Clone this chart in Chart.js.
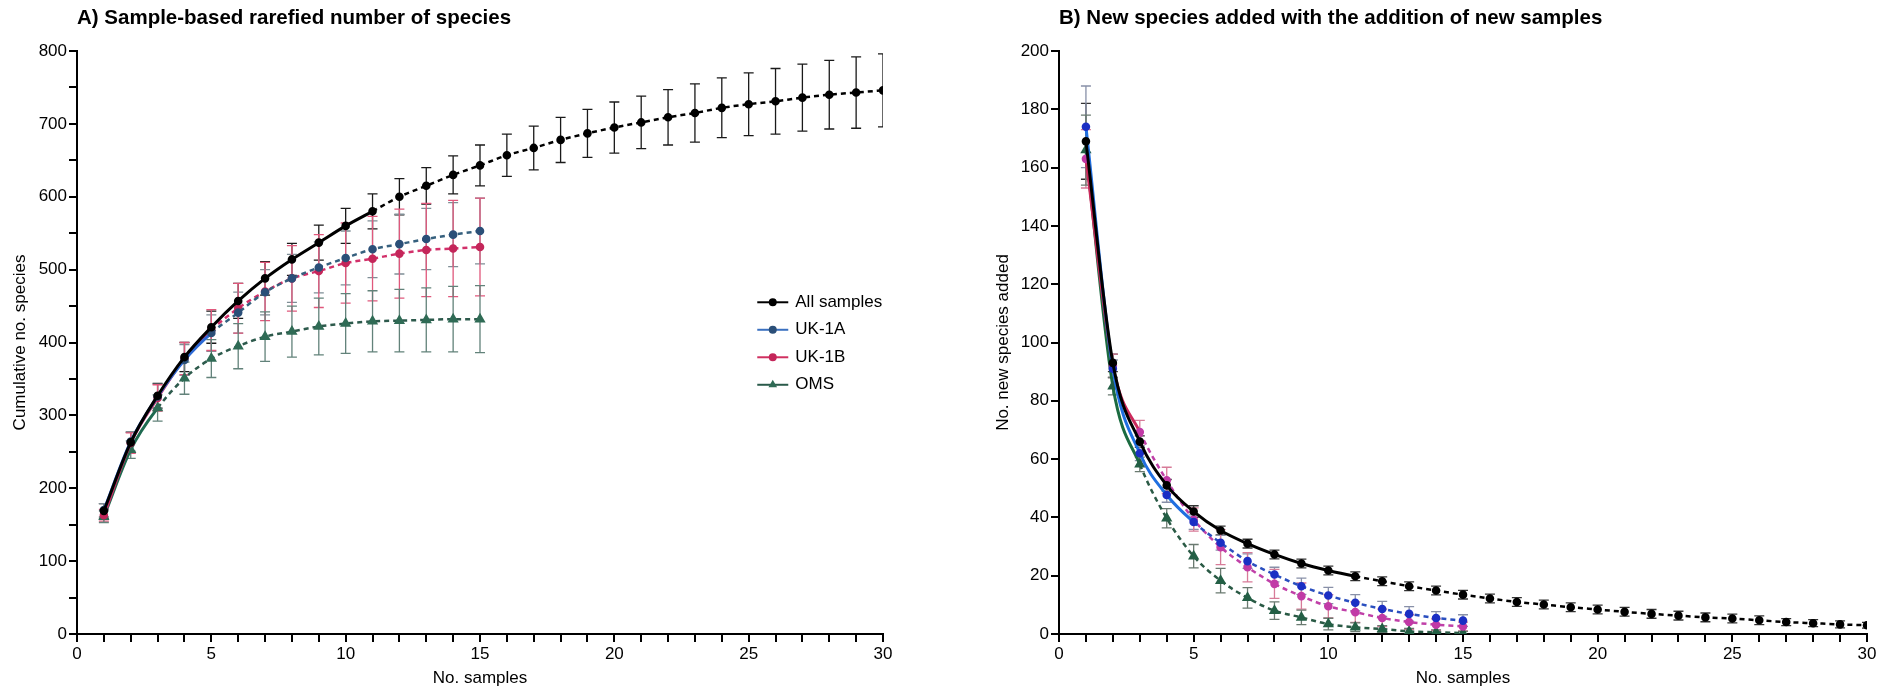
<!DOCTYPE html>
<html>
<head>
<meta charset="utf-8">
<script src="https://cdn.jsdelivr.net/npm/chart.js@4.4.1/dist/chart.umd.min.js"></script>
<style>
  html, body { margin: 0; padding: 0; background: #fff; }
  #wrap { display: flex; width: 1890px; height: 689px; }
  .box { position: relative; width: 945px; height: 689px; }
</style>
</head>
<body>
<div id="wrap">
  <div class="box"><canvas id="chartA" width="945" height="689"></canvas></div>
  <div class="box"><canvas id="chartB" width="945" height="689"></canvas></div>
</div>
<script>
// x values (no. samples)
var samples = [1,2,3,4,5,6,7,8,9,10,11,12,13,14,15,16,17,18,19,20,21,22,23,24,25,26,27,28,29,30];
var seriesNames = ['All samples', 'UK-1A', 'UK-1B', 'OMS'];

// A) cumulative no. species (mean, +/- error)
var allA     = [169,263,327,380,421,457,488,514,537,560,580,600,615,630,643,657,667,678,687,695,702,709,715,722,727,731,736,740,743,746];
var allAErr  = [10,14,17,20,22,24,23,22,24,24,24,25,25,26,28,29,30,31,33,35,36,38,40,41,43,45,46,47,49,50];
var uk1aA    = [170,264,326,376,413,441,469,488,503,516,528,535,542,548,553];
var uk1aAErr = [9,13,17,21,25,28,31,33,35,37,39,41,42,44,45];
var uk1bA    = [163,262,324,378,417,447,470,488,498,509,515,522,527,529,531];
var uk1bAErr = [8,14,18,22,28,34,40,45,50,55,58,61,64,66,67];
var omsA     = [161,253,310,351,378,395,408,415,422,426,429,430,431,432,432];
var omsAErr  = [8,12,18,22,26,31,34,35,39,41,42,43,44,45,46];

// B) new species added
var allB     = [169,93,66,51,42,35.5,31,27.3,24.2,21.8,19.8,18.1,16.4,14.9,13.5,12.2,11,10.1,9.2,8.4,7.6,6.9,6.3,5.7,5.3,4.7,4.1,3.7,3.3,3.0];
var allBErr  = [13,3,2,2,2,1.5,1.5,1.5,1.5,1.5,1.5,1.5,1.5,1.5,1.5,1.5,1.5,1.5,1.5,1.5,1.5,1.5,1.5,1.5,1.5,1.5,1.2,1.2,1.2,1];
var uk1aB    = [174,91,62,47.7,38.4,31.3,25,20.4,16.4,13.2,10.7,8.6,6.9,5.5,4.6];
var uk1aBErr = [14,3,2.5,2.5,2.5,2.5,2.5,2.5,2.8,2.8,2.8,2.6,2.5,2.2,2];
var uk1bB    = [163,92,69.3,52.7,39.3,29.8,22.9,17.2,13,9.5,7.5,5.5,4.1,3.2,2.6];
var uk1bBErr = [10,4,4,4.5,4,6,5,5,4.5,4,3.5,3,2.5,2,1.5];
var omsB     = [166,85,58.2,39.7,26.7,18.3,12.4,8,5.7,3.4,2.3,1.7,0.9,0.6,0.3];
var omsBErr  = [12,3,2.5,3.3,4,4.2,3.5,3,2.5,2,1.5,1.2,1,0.8,0.6];

Chart.defaults.font.family = '"Liberation Sans", Arial, Helvetica, sans-serif';
Chart.defaults.font.size = 17;
Chart.defaults.color = '#000';

function pts(arr){
  return arr.map(function(v, i){ return {x: samples[i], y: v}; });
}

// solid up to the observed sample count, dotted after
function series(label, arr, err, solidTo, c){
  return {
    label: label,
    data: pts(arr),
    errors: err,
    errorColor: c.err,
    borderColor: c.line,
    backgroundColor: c.mark,
    pointBackgroundColor: c.mark,
    pointBorderColor: c.mark,
    pointStyle: c.shape || 'circle',
    pointRadius: c.r || 2.8,
    borderWidth: 3,
    cubicInterpolationMode: 'monotone',
    segment: {
      borderDash: function(s){ return s.p0DataIndex >= solidTo - 1 ? [5,4] : undefined; },
      borderColor: function(s){ return s.p0DataIndex >= solidTo - 1 ? c.dash : undefined; },
      borderWidth: function(s){ return s.p0DataIndex >= solidTo - 1 ? 2.5 : undefined; }
    },
    legendLine: c.legend || c.line
  };
}

var errorBars = {
  id: 'errorBars',
  beforeDatasetsDraw: function(chart){
    var ctx = chart.ctx, ys = chart.scales.y, a = chart.chartArea;
    ctx.save();
    ctx.beginPath();
    ctx.rect(a.left, a.top - 2, a.right - a.left, a.bottom - a.top + 1);
    ctx.clip();
    chart.data.datasets.forEach(function(ds, i){
      if(!ds.errors) return;
      var meta = chart.getDatasetMeta(i);
      ctx.strokeStyle = ds.errorColor;
      ctx.lineWidth = 1.3;
      meta.data.forEach(function(p, j){
        var v = ds.data[j].y, e = ds.errors[j];
        var t = ys.getPixelForValue(v + e), b = ys.getPixelForValue(v - e);
        ctx.beginPath();
        ctx.moveTo(p.x, t); ctx.lineTo(p.x, b);
        ctx.moveTo(p.x - 5, t); ctx.lineTo(p.x + 5, t);
        ctx.moveTo(p.x - 5, b); ctx.lineTo(p.x + 5, b);
        ctx.stroke();
      });
    });
    ctx.restore();
  }
};

var panelTitle = {
  id: 'panelTitle',
  afterDraw: function(chart, args, opts){
    var ctx = chart.ctx;
    ctx.save();
    ctx.font = 'bold 20.5px "Liberation Sans", Arial, sans-serif';
    ctx.fillStyle = '#000';
    ctx.textBaseline = 'middle';
    ctx.fillText(opts.text, chart.chartArea.left, 18);
    ctx.restore();
  }
};

var innerLegend = {
  id: 'innerLegend',
  afterDraw: function(chart, args, opts){
    if(!opts.show) return;
    var ctx = chart.ctx, a = chart.chartArea;
    var x0 = a.left + 0.844 * (a.right - a.left);
    var y0 = a.top + 0.431 * (a.bottom - a.top);
    ctx.save();
    ctx.font = '17px "Liberation Sans", Arial, sans-serif';
    ctx.textBaseline = 'middle';
    chart.data.datasets.forEach(function(ds, i){
      var y = y0 + i * 27.5;
      ctx.strokeStyle = ds.legendLine;
      ctx.lineWidth = 2;
      ctx.beginPath(); ctx.moveTo(x0, y); ctx.lineTo(x0 + 31, y); ctx.stroke();
      ctx.fillStyle = ds.pointBackgroundColor;
      ctx.strokeStyle = ds.pointBackgroundColor;
      Chart.helpers.drawPoint(ctx, {pointStyle: ds.pointStyle, radius: 3, borderWidth: 1, rotation: 0}, x0 + 15.5, y);
      ctx.fillStyle = '#000';
      ctx.fillText(ds.label, x0 + 38, y);
    });
    ctx.restore();
  }
};

function axes(yMax, yStep, yLabelEvery, yTitle, yWidth){
  return {
    x: {
      type: 'linear', min: 0, max: 30,
      border: { color: '#000', width: 2 },
      grid: { drawOnChartArea: false, color: '#000', lineWidth: 2, tickLength: 8 },
      ticks: { stepSize: 1, autoSkip: false, maxRotation: 0, padding: 2,
        callback: function(v){ return v % 5 === 0 ? String(v) : ''; } },
      title: { display: true, text: 'No. samples', padding: { top: 2, bottom: 0 } },
      afterFit: function(s){ s.height = 55; }
    },
    y: {
      min: 0, max: yMax,
      border: { color: '#000', width: 2 },
      grid: { drawOnChartArea: false, color: '#000', lineWidth: 2, tickLength: 8 },
      ticks: { stepSize: yStep, autoSkip: false, padding: 2,
        callback: function(v){ return v % yLabelEvery === 0 ? String(v) : ''; } },
      title: { display: true, text: yTitle, padding: { top: 4, bottom: 4 } },
      afterFit: function(s){ s.width = yWidth; }
    }
  };
}

new Chart(document.getElementById('chartA'), {
  type: 'line',
  data: {
    datasets: [
      series(seriesNames[0], allA, allAErr, 11, {line: '#000', dash: '#000', mark: '#000', err: '#1a1a1a'}),
      series(seriesNames[1], uk1aA, uk1aAErr, 5, {line: '#2e6bd6', dash: '#36607e', mark: '#2b4f78', err: '#7f8e96', legend: '#3a70c0'}),
      series(seriesNames[2], uk1bA, uk1bAErr, 5, {line: '#d42b62', dash: '#d2306a', mark: '#c4265a', err: '#e0587c', legend: '#d03060'}),
      series(seriesNames[3], omsA, omsAErr, 3, {line: '#1e6a50', dash: '#2d5a4c', mark: '#2f6b55', err: '#62827a', shape: 'triangle', r: 3.5, legend: '#2a5a4a'})
    ]
  },
  options: {
    responsive: false, animation: false, events: [],
    layout: { padding: { left: 6, right: 62, top: 51, bottom: 0 } },
    scales: axes(800, 50, 100, 'Cumulative no. species', 71),
    plugins: {
      legend: { display: false }, tooltip: { enabled: false },
      panelTitle: { text: 'A) Sample-based rarefied number of species' },
      innerLegend: { show: true }
    }
  },
  plugins: [errorBars, panelTitle, innerLegend]
});

new Chart(document.getElementById('chartB'), {
  type: 'line',
  data: {
    datasets: [
      series(seriesNames[0], allB, allBErr, 11, {line: '#000', dash: '#000', mark: '#000', err: '#333'}),
      series(seriesNames[1], uk1aB, uk1aBErr, 5, {line: '#1f6fe0', dash: '#2a4fbf', mark: '#1b2fc4', err: '#8890a8'}),
      series(seriesNames[2], uk1bB, uk1bBErr, 3, {line: '#cc2a5c', dash: '#c040a8', mark: '#c13aa6', err: '#d77b98'}),
      series(seriesNames[3], omsB, omsBErr, 3, {line: '#1b6b40', dash: '#2a5a45', mark: '#235f45', err: '#6a7a70', shape: 'triangle', r: 3.5})
    ]
  },
  options: {
    responsive: false, animation: false, events: [],
    layout: { padding: { left: 44, right: 23, top: 51, bottom: 0 } },
    scales: axes(200, 20, 20, 'No. new species added', 70),
    plugins: {
      legend: { display: false }, tooltip: { enabled: false },
      panelTitle: { text: 'B) New species added with the addition of new samples' },
      innerLegend: { show: false }
    }
  },
  plugins: [errorBars, panelTitle, innerLegend]
});
</script>
</body>
</html>
